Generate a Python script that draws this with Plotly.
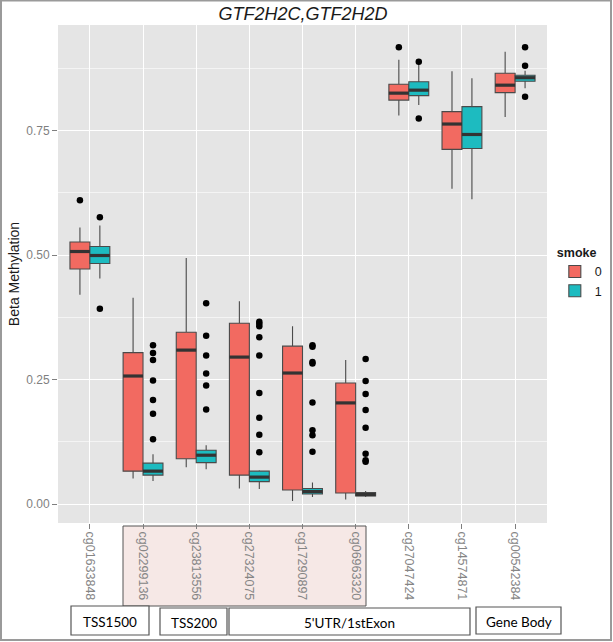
import plotly.graph_objects as go

# ---------------- data ----------------
categories = ["cg01633848", "cg02299136", "cg23813556", "cg27324075", "cg17290897",
              "cg06963320", "cg27047424", "cg14574871", "cg00542384"]
groups = ["0", "1"]

# smoke = 0
q1_0 = [0.472, 0.066, 0.091, 0.058, 0.028, 0.022, 0.811, 0.712, 0.826]
med_0 = [0.507, 0.257, 0.309, 0.295, 0.263, 0.203, 0.825, 0.763, 0.841]
q3_0 = [0.526, 0.304, 0.345, 0.363, 0.317, 0.243, 0.843, 0.788, 0.865]
lo_0 = [0.420, 0.051, 0.074, 0.031, 0.006, 0.009, 0.780, 0.633, 0.777]
hi_0 = [0.555, 0.414, 0.494, 0.407, 0.357, 0.289, 0.892, 0.869, 0.908]
out_0 = [[0.610], [], [], [], [], [], [0.917], [], []]

# smoke = 1
q1_1 = [0.483, 0.058, 0.083, 0.045, 0.020, 0.016, 0.820, 0.714, 0.849]
med_1 = [0.499, 0.066, 0.098, 0.054, 0.025, 0.019, 0.831, 0.742, 0.856]
q3_1 = [0.517, 0.082, 0.108, 0.066, 0.031, 0.023, 0.848, 0.798, 0.861]
lo_1 = [0.453, 0.046, 0.070, 0.030, 0.014, 0.014, 0.801, 0.612, 0.835]
hi_1 = [0.559, 0.100, 0.118, 0.068, 0.043, 0.026, 0.886, 0.855, 0.870]
out_1 = [[0.576, 0.392],
         [0.319, 0.303, 0.289, 0.248, 0.209, 0.181, 0.130],
         [0.403, 0.338, 0.298, 0.262, 0.238, 0.190],
         [0.366, 0.362, 0.357, 0.335, 0.298, 0.223, 0.173, 0.139, 0.104],
         [0.319, 0.316, 0.285, 0.282, 0.204, 0.148, 0.138, 0.105],
         [0.291, 0.247, 0.221, 0.189, 0.153, 0.101, 0.088, 0.085],
         [0.888, 0.774],
         [],
         [0.917, 0.880, 0.818]]

y_ticks = [0.0, 0.25, 0.50, 0.75]
y_ticklabels = ["0.00", "0.25", "0.50", "0.75"]

regions = ["TSS1500", "TSS200", "5'UTR/1stExon", "Gene Body"]

# ---------------- styling ----------------
colors = ["#F26A61", "#1DBBC0"]
BOXW = 0.375
FONT = "Liberation Sans, Arial, sans-serif"

fig = go.Figure()

stats = [(q1_0, med_0, q3_0, lo_0, hi_0, out_0), (q1_1, med_1, q3_1, lo_1, hi_1, out_1)]
for g, (q1, med, q3, lo, hi, outs) in enumerate(stats):
    offset = (g - 0.5) * BOXW
    pos = [i + 1 + offset for i in range(len(categories))]
    fig.add_trace(go.Box(
        x=pos, q1=q1, median=med, q3=q3, lowerfence=lo, upperfence=hi,
        width=BOXW, whiskerwidth=0, boxpoints=False,
        fillcolor=colors[g], line=dict(color="#4a4a4a", width=1.1),
        name=groups[g], legendgroup=groups[g], hoverinfo="skip",
    ))
    # thick median bars (ggplot style)
    mx, my = [], []
    for p, m in zip(pos, med):
        mx += [p - BOXW / 2, p + BOXW / 2, None]
        my += [m, m, None]
    fig.add_trace(go.Scatter(x=mx, y=my, mode="lines",
                             line=dict(color="#333333", width=3.2),
                             showlegend=False, hoverinfo="skip"))
    # outliers
    ox, oy = [], []
    for p, o in zip(pos, outs):
        ox += [p] * len(o)
        oy += o
    fig.add_trace(go.Scatter(x=ox, y=oy, mode="markers",
                             marker=dict(color="black", size=6.5),
                             showlegend=False, hoverinfo="skip"))

# pixel -> paper helpers (plot area: x 58..547, y 25..523)
L, R, T, B = 58, 547, 25, 523
def px(x):
    return (x - L) / (R - L)
def py(y):
    return (B - y) / (B - T)

shapes = []
# pink highlight behind tick labels
shapes.append(dict(type="rect", xref="paper", yref="paper",
                   x0=px(123), x1=px(366), y0=py(606), y1=py(526),
                   fillcolor="rgba(236,205,200,0.45)", line=dict(color="#555555", width=1),
                   layer="below"))
region_boxes = [(71, 149, 606, 635), (160, 227, 608, 635), (229, 470, 608, 635), (476, 561, 607, 634)]
annotations = []
for name, (x0, x1, y0, y1) in zip(regions, region_boxes):
    shapes.append(dict(type="rect", xref="paper", yref="paper",
                       x0=px(x0), x1=px(x1), y0=py(y1), y1=py(y0),
                       fillcolor="white", line=dict(color="#555555", width=1.2)))
    annotations.append(dict(text=name, xref="paper", yref="paper",
                            x=px((x0 + x1) / 2), y=py((y0 + y1) / 2 + 1),
                            showarrow=False, xanchor="center", yanchor="middle",
                            font=dict(family="Lato, sans-serif", size=13.5, color="black")))
# outer frame
shapes.append(dict(type="rect", xref="paper", yref="paper",
                   x0=px(1), x1=px(611), y0=py(640), y1=py(0.5),
                   line=dict(color="#9a9a9a", width=2), fillcolor="rgba(0,0,0,0)"))

fig.update_layout(
    width=613, height=642,
    margin=dict(l=L, r=613 - R, t=T, b=642 - B, pad=0, autoexpand=False),
    paper_bgcolor="white", plot_bgcolor="#E5E5E5",
    font=dict(family=FONT, size=12, color="#7F7F7F"),
    title=dict(text="<i>GTF2H2C,GTF2H2D</i>", x=px(303), xref="paper",
               y=1 - 13.5 / 642, yref="container", xanchor="center", yanchor="middle",
               font=dict(family=FONT, size=18, color="#1a1a1a")),
    showlegend=True,
    legend=dict(title=dict(text="<b>smoke</b>", font=dict(size=12.5, color="#1a1a1a")),
                x=1.016, xanchor="left", y=0.567, yanchor="top",
                font=dict(size=12.5, color="#1a1a1a"), bgcolor="rgba(0,0,0,0)",
                tracegroupgap=0, itemwidth=30),
    shapes=shapes, annotations=annotations,
)
fig.update_xaxes(range=[0.4, 9.6], tickmode="array", automargin=False,
                 tickvals=list(range(1, len(categories) + 1)), ticktext=categories,
                 tickangle=90, ticks="outside", ticklen=5, tickcolor="#7F7F7F",
                 tickfont=dict(size=12.5, color="#858585"),
                 showgrid=True, gridcolor="white", gridwidth=1.3, zeroline=False,
                 showline=False)
fig.update_yaxes(range=[(504 - 523) / 498, (504 - 25) / 498], tickmode="array",
                 automargin=True,
                 tickvals=y_ticks, ticktext=y_ticklabels,
                 ticks="outside", ticklen=5, tickcolor="#7F7F7F",
                 tickfont=dict(size=12, color="#7F7F7F"),
                 showgrid=True, gridcolor="white", gridwidth=1.3, zeroline=False,
                 minor=dict(tick0=0.125, dtick=0.25, showgrid=True,
                            gridcolor="#F4F4F4", gridwidth=0.8, ticks=""),
                 title=dict(text="Beta Methylation", standoff=3,
                            font=dict(size=14, color="#1a1a1a")))

fig.write_html("out.html", config={"displayModeBar": False},
               post_script="document.body.style.margin='0';document.body.style.padding='0';")
